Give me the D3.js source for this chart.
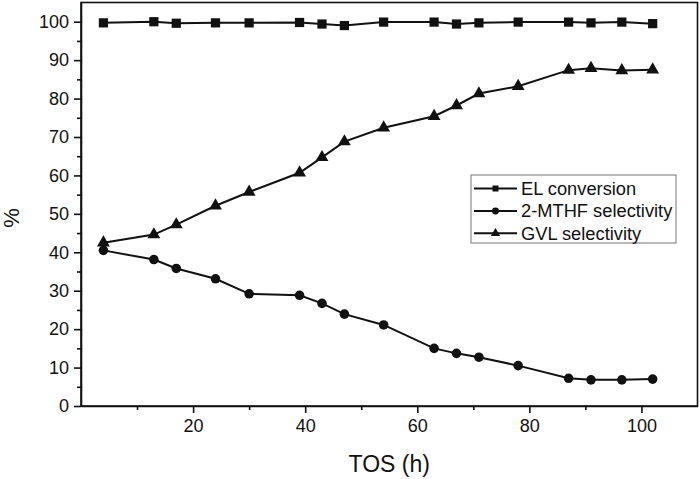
<!DOCTYPE html>
<html>
<head>
<meta charset="utf-8">
<script src="https://cdn.jsdelivr.net/npm/d3@7"></script>
<style>
  html, body { margin: 0; padding: 0; background: #fff; }
  svg { display: block; }
  text { font-family: "Liberation Sans", Arial, sans-serif; fill: #111; }
</style>
</head>
<body>
<svg id="chart" width="700" height="479"></svg>
<script>
// ---- data ----
const tos = [4, 13, 17, 24, 30, 39, 43, 47, 54, 63, 67, 71, 78, 87, 91, 96.5, 102];
const elConversion = [99.7, 100, 99.6, 99.7, 99.7, 99.8, 99.4, 99.0, 99.9, 99.9, 99.4, 99.7, 99.9, 99.9, 99.7, 99.9, 99.5];
const mthfSelectivity = [40.5, 38.1, 35.8, 33.1, 29.2, 28.8, 26.7, 23.9, 21.1, 15.0, 13.7, 12.7, 10.5, 7.2, 6.8, 6.8, 7.0];
const gvlSelectivity = [42.5, 44.6, 47.2, 52.1, 55.7, 60.7, 64.7, 68.8, 72.4, 75.4, 78.2, 81.3, 83.2, 87.4, 87.9, 87.3, 87.5];
const seriesNames = ["EL conversion", "2-MTHF selectivity", "GVL selectivity"];
const xMajorTicks = [20, 40, 60, 80, 100];
const xMinorTicks = [10, 30, 50, 70, 90];
const yMajorTicks = [0, 10, 20, 30, 40, 50, 60, 70, 80, 90, 100];
const yMinorTicks = [5, 15, 25, 35, 45, 55, 65, 75, 85, 95];

// ---- layout ----
const svg = d3.select("#chart");
const L = 81, R = 697.5, T = 2.5, B = 406;
const x = d3.scaleLinear().domain([0, 110]).range([L, R]);
const y = d3.scaleLinear().domain([0, 105]).range([B, T]);

const series = [
  { name: seriesNames[0], values: elConversion, symbol: d3.symbolSquare, size: 85, lsize: 36 },
  { name: seriesNames[1], values: mthfSelectivity, symbol: d3.symbolCircle, size: 72, lsize: 38 },
  { name: seriesNames[2], values: gvlSelectivity, symbol: d3.symbolTriangle, size: 72, lsize: 38 }
];

// frame
svg.append("rect")
  .attr("x", L).attr("y", T).attr("width", R - L).attr("height", B - T)
  .attr("fill", "none").attr("stroke", "#111").attr("stroke-width", 1.6);

// axes
svg.append("g").attr("transform", `translate(0,${B})`)
  .call(d3.axisBottom(x).tickValues(xMajorTicks).tickSize(7).tickSizeOuter(0).tickPadding(6));
svg.append("g").attr("transform", `translate(0,${B})`)
  .call(d3.axisBottom(x).tickValues(xMinorTicks).tickSize(4).tickSizeOuter(0).tickFormat(""))
  .select(".domain").remove();
svg.append("g").attr("transform", `translate(${L},0)`)
  .call(d3.axisLeft(y).tickValues(yMajorTicks).tickSize(7).tickSizeOuter(0).tickPadding(5));
svg.append("g").attr("transform", `translate(${L},0)`)
  .call(d3.axisLeft(y).tickValues(yMinorTicks).tickSize(4).tickSizeOuter(0).tickFormat(""))
  .select(".domain").remove();

svg.selectAll(".domain").attr("stroke", "#111").attr("stroke-width", 1.6);
svg.selectAll(".tick line").attr("stroke", "#111").attr("stroke-width", 1.6);
svg.selectAll(".tick text").attr("font-size", 18).attr("font-family", "Liberation Sans, Arial, sans-serif").attr("fill", "#111");

// axis titles
svg.append("text").attr("x", (x(0) + x(110)) / 2).attr("y", 472)
  .attr("text-anchor", "middle").attr("font-size", 23).text("TOS (h)");
svg.append("text").attr("transform", `translate(19,218) rotate(-90)`)
  .attr("text-anchor", "middle").attr("font-size", 22).text("%");

// lines and markers
const line = d3.line().x(d => x(d[0])).y(d => y(d[1]));
series.forEach(s => {
  const pts = tos.map((t, i) => [t, s.values[i]]);
  svg.append("path").datum(pts).attr("d", line)
    .attr("fill", "none").attr("stroke", "#111").attr("stroke-width", 2);
  svg.append("g").selectAll("path").data(pts).join("path")
    .attr("transform", d => `translate(${x(d[0])},${y(d[1])})`)
    .attr("d", d3.symbol().type(s.symbol).size(s.size))
    .attr("fill", "#111");
});

// legend
const lg = svg.append("g");
lg.append("rect").attr("x", 471).attr("y", 175).attr("width", 205).attr("height", 68)
  .attr("fill", "#fff").attr("stroke", "#777").attr("stroke-width", 1);
series.forEach((s, i) => {
  const cy = 188.5 + i * 22.4;
  lg.append("line").attr("x1", 474).attr("x2", 517).attr("y1", cy).attr("y2", cy)
    .attr("stroke", "#111").attr("stroke-width", 2);
  lg.append("path").attr("transform", `translate(495.5,${cy})`)
    .attr("d", d3.symbol().type(s.symbol).size(s.lsize)).attr("fill", "#111");
  lg.append("text").attr("x", 521).attr("y", cy).attr("dy", "0.35em")
    .attr("font-size", 18.3).text(s.name);
});
</script>
</body>
</html>
